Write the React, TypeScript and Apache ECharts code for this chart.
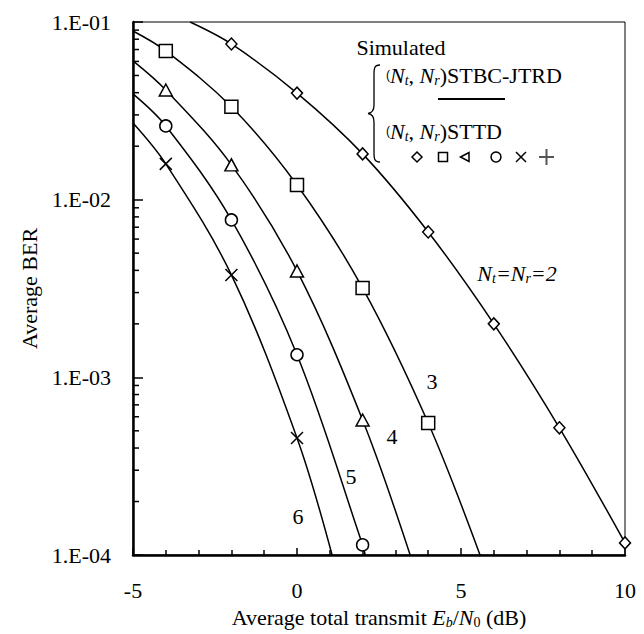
import React, { useEffect, useRef } from "react";
import * as echarts from "echarts";

const FONT = "'Liberation Serif', 'Times New Roman', serif";

// Eb/N0 (dB) of simulated points
const snrNt2 = [-2, 0, 2, 4, 6, 8, 10];
const berNt2 = [0.0752, 0.0398, 0.0181, 0.00658, 0.002, 0.00052, 0.000117];
const snrNt3 = [-4, -2, 0, 2, 4];
const berNt3 = [0.0687, 0.0333, 0.0121, 0.00318, 0.000553];
const snrNt4 = [-4, -2, 0, 2];
const berNt4 = [0.0414, 0.0157, 0.00397, 0.000575];
const snrNt5 = [-4, -2, 0, 2];
const berNt5 = [0.026, 0.00769, 0.00134, 0.000114];
const snrNt6 = [-4, -2, 0];
const berNt6 = [0.0159, 0.00377, 0.000456];

// where each curve enters / leaves the plotted area [dB, BER]
const startNt2 = [-3.26, 0.1];
const startNt3 = [-5, 0.089];
const startNt4 = [-5, 0.0604];
const startNt5 = [-5, 0.0394];
const startNt6 = [-5, 0.027];
const endNt3 = [5.58, 0.0001];
const endNt4 = [3.45, 0.0001];
const endNt5 = [2.08, 0.0001];
const endNt6 = [1.07, 0.0001];

const yMinorTicks: number[] = [];
[0.0001, 0.001, 0.01].forEach((d) => {
  for (let k = 2; k <= 9; k++) yMinorTicks.push(+(d * k).toPrecision(3));
});

const CROSS = "path://M0,0L10,10M10,0L0,10";

function build(xs: number[], ys: number[], start: number[] | null, end: number[] | null) {
  const out: any[] = [];
  if (start) out.push({ value: start, symbol: "none" });
  xs.forEach((x, i) => out.push({ value: [x, ys[i]] }));
  if (end) out.push({ value: end, symbol: "none" });
  return out;
}

function lineSeries(name: string, data: any[], symbol: string, size: any) {
  return {
    name,
    type: "line",
    data,
    smooth: 0.35,
    symbol,
    symbolSize: size,
    showAllSymbol: true,
    clip: true,
    lineStyle: { color: "#000", width: 1.5 },
    itemStyle: { color: "#fff", borderColor: "#000", borderWidth: 1.5 },
    z: 3,
  };
}

export default function App() {
  const ref = useRef<HTMLDivElement>(null);
  useEffect(() => {
    const chart = echarts.init(ref.current!, undefined, { renderer: "svg" });
    echarts.graphic.registerShape(
      "brace",
      echarts.graphic.extendPath(
        "M12,0 C6,0 6,4 6,10 L6,40 C6,46 4,48 0,48.5 C4,49 6,51 6,57 L6,87 C6,93 6,97 12,97",
        {}
      )
    );
    const sub = { fontFamily: FONT, fontStyle: "italic", fontSize: 14, verticalAlign: "bottom", lineHeight: 14 };
    const subR = { ...sub, fontStyle: "normal" };
    const it = { fontFamily: FONT, fontStyle: "italic", fontSize: 22, lineHeight: 24 };
    const n = { fontFamily: FONT, fontSize: 22, lineHeight: 24 };
    const richLegend = { i: it, s: sub, n };

    const option: any = {
      animation: false,
      backgroundColor: "#fff",
      textStyle: { fontFamily: FONT, color: "#000" },
      grid: { left: 125, right: 27, top: 14, bottom: 87, show: true, borderColor: "#000", borderWidth: 1 },
      xAxis: {
        type: "value",
        min: -5,
        max: 10,
        interval: 5,
        axisLine: { onZero: false, lineStyle: { color: "#000", width: 2.5 } },
        axisTick: { inside: true, length: 7, lineStyle: { color: "#000", width: 1.5 } },
        minorTick: { show: true, splitNumber: 5, length: 5, lineStyle: { color: "#000", width: 1.5 } },
        splitLine: { show: false },
        axisLabel: { color: "#000", fontFamily: FONT, fontSize: 22, margin: 24 },
        name: "{n|Average total transmit }{i|E}{s|b}{n|/}{i|N}{r|0}{n| (dB)}",
        nameLocation: "middle",
        nameGap: 50,
        nameTextStyle: { rich: { n, i: it, s: sub, r: subR } },
      },
      yAxis: {
        type: "log",
        logBase: 10,
        min: 0.0001,
        max: 0.1,
        axisLine: { onZero: false, lineStyle: { color: "#000", width: 2.5 } },
        axisTick: { inside: true, length: 10, lineStyle: { color: "#000", width: 1.5 } },
        splitLine: { show: false },
        axisLabel: {
          color: "#000",
          fontFamily: FONT,
          fontSize: 22,
          margin: 22,
          formatter: (v: number) => {
            const e = Math.round(-Math.log10(v));
            return "1.E-" + String(e).padStart(2, "0");
          },
        },
        name: "Average BER",
        nameLocation: "middle",
        nameGap: 90,
        nameTextStyle: { fontFamily: FONT, fontSize: 22, color: "#000" },
      },
      series: [
        lineSeries("Nt=2", build(snrNt2, berNt2, startNt2, null), "diamond", [11, 12]),
        lineSeries("Nt=3", build(snrNt3, berNt3, startNt3, endNt3), "rect", 13),
        lineSeries("Nt=4", build(snrNt4, berNt4, startNt4, endNt4), "triangle", [13, 12]),
        lineSeries("Nt=5", build(snrNt5, berNt5, startNt5, endNt5), "circle", 12),
        lineSeries("Nt=6", build(snrNt6, berNt6, startNt6, endNt6), CROSS, 12),
        {
          type: "custom",
          silent: true,
          clip: false,
          z: 5,
          data: yMinorTicks.map((v) => [-5, v]),
          encode: { x: 0, y: 1 },
          renderItem: (params: any, api: any) => {
            const p = api.coord([api.value(0), api.value(1)]);
            return {
              type: "line",
              shape: { x1: p[0], y1: p[1], x2: p[0] + 6, y2: p[1] },
              style: { stroke: "#000", lineWidth: 1.5 },
            };
          },
        },
      ],
      graphic: [
        { type: "text", x: 393, y: 39, style: { text: "Simulated", fontFamily: FONT, fontSize: 22, fill: "#000", align: "center", verticalAlign: "middle" } },
        { type: "brace", x: 360, y: 57, style: { fill: "none", stroke: "#000", lineWidth: 1.3 } },
        {
          type: "text",
          x: 378,
          y: 67,
          style: { text: "({i|N}{s|t}{n|, }{i|N}{s|r}{n|)STBC-JTRD}", rich: richLegend, fill: "#000", verticalAlign: "middle" },
        },
        { type: "line", shape: { x1: 430, y1: 91, x2: 497, y2: 91 }, style: { stroke: "#000", lineWidth: 2 } },
        {
          type: "text",
          x: 378,
          y: 123,
          style: { text: "({i|N}{s|t}{n|, }{i|N}{s|r}{n|)STTD}", rich: richLegend, fill: "#000", verticalAlign: "middle" },
        },
        { type: "polygon", shape: { points: [[409, 144], [414, 149], [409, 154], [404, 149]] }, style: { fill: "#fff", stroke: "#000", lineWidth: 1.5 } },
        { type: "rect", shape: { x: 430.5, y: 144.5, width: 9, height: 9 }, style: { fill: "#fff", stroke: "#000", lineWidth: 1.5 } },
        { type: "polygon", shape: { points: [[452.5, 149], [461, 144.5], [461, 153.5]] }, style: { fill: "#fff", stroke: "#000", lineWidth: 1.5 } },
        { type: "circle", shape: { cx: 488, cy: 149, r: 5 }, style: { fill: "#fff", stroke: "#000", lineWidth: 1.5 } },
        { type: "line", shape: { x1: 508, y1: 144, x2: 518, y2: 154 }, style: { stroke: "#000", lineWidth: 1.5 } },
        { type: "line", shape: { x1: 518, y1: 144, x2: 508, y2: 154 }, style: { stroke: "#000", lineWidth: 1.5 } },
        { type: "line", shape: { x1: 531, y1: 149, x2: 546, y2: 149 }, style: { stroke: "#555", lineWidth: 2 } },
        { type: "line", shape: { x1: 538.5, y1: 141, x2: 538.5, y2: 157 }, style: { stroke: "#555", lineWidth: 2 } },
        {
          type: "text",
          x: 509,
          y: 265,
          style: { text: "{i|N}{s|t}{i|=N}{s|r}{i|=2}", rich: richLegend, fill: "#000", align: "center", verticalAlign: "middle" },
        },
        { type: "text", x: 424, y: 373, style: { text: "3", fontFamily: FONT, fontSize: 22, fill: "#000", align: "center", verticalAlign: "middle" } },
        { type: "text", x: 384, y: 428, style: { text: "4", fontFamily: FONT, fontSize: 22, fill: "#000", align: "center", verticalAlign: "middle" } },
        { type: "text", x: 343, y: 468, style: { text: "5", fontFamily: FONT, fontSize: 22, fill: "#000", align: "center", verticalAlign: "middle" } },
        { type: "text", x: 290, y: 508, style: { text: "6", fontFamily: FONT, fontSize: 22, fill: "#000", align: "center", verticalAlign: "middle" } },
      ],
    };
    chart.setOption(option);
    return () => chart.dispose();
  }, []);
  return <div ref={ref} style={{ width: 644, height: 634 }} />;
}
